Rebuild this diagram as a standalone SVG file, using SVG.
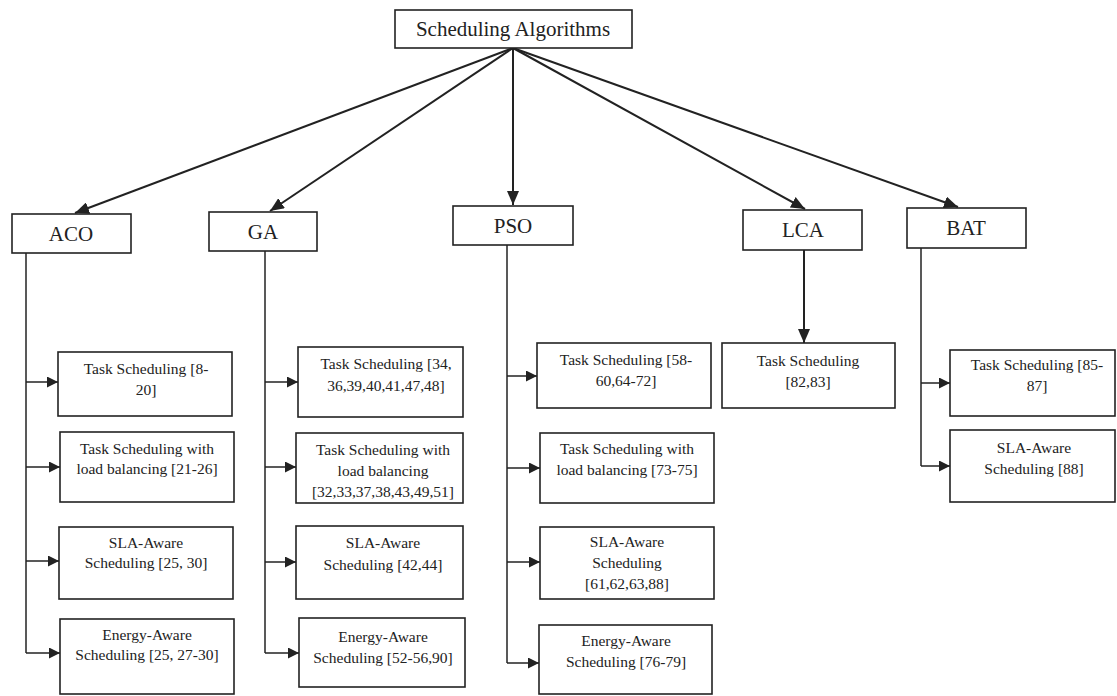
<svg xmlns="http://www.w3.org/2000/svg" width="1117" height="696" viewBox="0 0 1117 696">
<style>
.box{fill:#fff;stroke:#222;stroke-width:1.6}
.t1{font-family:"Liberation Serif","Times New Roman",serif;font-size:21px;fill:#222;text-anchor:middle}
.t2{font-family:"Liberation Serif","Times New Roman",serif;font-size:15.5px;fill:#222;text-anchor:middle}
.ln{fill:none;stroke:#222;stroke-width:1.5}
.dg{fill:none;stroke:#222;stroke-width:2}
</style>
<defs>
<marker id="ah" viewBox="0 0 10 10" refX="10" refY="5" markerWidth="11" markerHeight="11" markerUnits="userSpaceOnUse" orient="auto">
<path d="M0,0 L10,5 L0,10 z" fill="#222"/>
</marker>
<marker id="ahl" viewBox="0 0 14 12" refX="14" refY="6" markerWidth="14" markerHeight="12" markerUnits="userSpaceOnUse" orient="auto">
<path d="M0,0 L14,6 L0,12 z" fill="#222"/>
</marker>
</defs>
<rect width="1117" height="696" fill="#fff"/>
<g id="connectors">
<line class="dg" x1="513" y1="48" x2="75" y2="213" marker-end="url(#ahl)"/>
<line class="dg" x1="513" y1="48" x2="270" y2="211" marker-end="url(#ahl)"/>
<line class="dg" x1="513" y1="48" x2="513" y2="205" marker-end="url(#ahl)"/>
<line class="dg" x1="513" y1="48" x2="805" y2="209" marker-end="url(#ahl)"/>
<line class="dg" x1="513" y1="48" x2="958" y2="207" marker-end="url(#ahl)"/>
<path class="ln" d="M26,253 V653"/>
<line class="ln" x1="26" y1="382" x2="58" y2="382" marker-end="url(#ah)"/>
<line class="ln" x1="26" y1="467" x2="60" y2="467" marker-end="url(#ah)"/>
<line class="ln" x1="26" y1="561" x2="59" y2="561" marker-end="url(#ah)"/>
<line class="ln" x1="26" y1="653" x2="60" y2="653" marker-end="url(#ah)"/>
<path class="ln" d="M265,251 V653"/>
<line class="ln" x1="265" y1="382" x2="298" y2="382" marker-end="url(#ah)"/>
<line class="ln" x1="265" y1="467" x2="296" y2="467" marker-end="url(#ah)"/>
<line class="ln" x1="265" y1="562" x2="296" y2="562" marker-end="url(#ah)"/>
<line class="ln" x1="265" y1="653" x2="299" y2="653" marker-end="url(#ah)"/>
<path class="ln" d="M507,245 V663"/>
<line class="ln" x1="507" y1="376" x2="537" y2="376" marker-end="url(#ah)"/>
<line class="ln" x1="507" y1="468" x2="540" y2="468" marker-end="url(#ah)"/>
<line class="ln" x1="507" y1="562" x2="540" y2="562" marker-end="url(#ah)"/>
<line class="ln" x1="507" y1="663" x2="539" y2="663" marker-end="url(#ah)"/>
<line class="dg" x1="804" y1="250" x2="804" y2="343" marker-end="url(#ahl)"/>
<path class="ln" d="M921,248 V466"/>
<line class="ln" x1="921" y1="383" x2="950" y2="383" marker-end="url(#ah)"/>
<line class="ln" x1="921" y1="466" x2="950" y2="466" marker-end="url(#ah)"/>
</g>
<g id="root"><rect class="box" x="395" y="10" width="237" height="38"/><text class="t1" x="513" y="36">Scheduling Algorithms</text></g>
<g id="aco"><rect class="box" x="12" y="214" width="119" height="39"/><text class="t1" x="71" y="241">ACO</text></g>
<g id="ga"><rect class="box" x="209" y="212" width="108" height="39"/><text class="t1" x="263" y="239">GA</text></g>
<g id="pso"><rect class="box" x="453" y="206" width="120" height="39"/><text class="t1" x="513" y="233">PSO</text></g>
<g id="lca"><rect class="box" x="743" y="210" width="119" height="40"/><text class="t1" x="803" y="237">LCA</text></g>
<g id="bat"><rect class="box" x="907" y="208" width="119" height="40"/><text class="t1" x="966" y="235">BAT</text></g>
<g id="aco1"><rect class="box" x="58" y="352" width="174" height="64"/><text class="t2" x="146" y="374">Task Scheduling [8-</text><text class="t2" x="146" y="395">20]</text></g>
<g id="aco2"><rect class="box" x="60" y="432" width="174" height="70"/><text class="t2" x="147" y="454">Task Scheduling with</text><text class="t2" x="147" y="474">load balancing [21-26]</text></g>
<g id="aco3"><rect class="box" x="59" y="527" width="174" height="72"/><text class="t2" x="146" y="548">SLA-Aware</text><text class="t2" x="146" y="568">Scheduling [25, 30]</text></g>
<g id="aco4"><rect class="box" x="60" y="619" width="174" height="75"/><text class="t2" x="147" y="640">Energy-Aware</text><text class="t2" x="147" y="660">Scheduling [25, 27-30]</text></g>
<g id="ga1"><rect class="box" x="298" y="347" width="165" height="70"/><text class="t2" x="386" y="369">Task Scheduling [34,</text><text class="t2" x="386" y="391">36,39,40,41,47,48]</text></g>
<g id="ga2"><rect class="box" x="296" y="433" width="167" height="70"/><text class="t2" x="383" y="455">Task Scheduling with</text><text class="t2" x="383" y="476">load balancing</text><text class="t2" x="383" y="497">[32,33,37,38,43,49,51]</text></g>
<g id="ga3"><rect class="box" x="296" y="526" width="167" height="73"/><text class="t2" x="383" y="548">SLA-Aware</text><text class="t2" x="383" y="570">Scheduling [42,44]</text></g>
<g id="ga4"><rect class="box" x="299" y="618" width="166" height="69"/><text class="t2" x="383" y="642">Energy-Aware</text><text class="t2" x="383" y="663">Scheduling [52-56,90]</text></g>
<g id="pso1"><rect class="box" x="537" y="343" width="174" height="65"/><text class="t2" x="626" y="365">Task Scheduling [58-</text><text class="t2" x="626" y="386">60,64-72]</text></g>
<g id="pso2"><rect class="box" x="540" y="433" width="174" height="70"/><text class="t2" x="627" y="454">Task Scheduling with</text><text class="t2" x="627" y="475">load balancing [73-75]</text></g>
<g id="pso3"><rect class="box" x="540" y="527" width="174" height="72"/><text class="t2" x="627" y="547">SLA-Aware</text><text class="t2" x="627" y="568">Scheduling</text><text class="t2" x="627" y="589">[61,62,63,88]</text></g>
<g id="pso4"><rect class="box" x="539" y="625" width="173" height="69"/><text class="t2" x="626" y="646">Energy-Aware</text><text class="t2" x="626" y="667">Scheduling [76-79]</text></g>
<g id="lca1"><rect class="box" x="722" y="343" width="173" height="65"/><text class="t2" x="808" y="366">Task Scheduling</text><text class="t2" x="808" y="387">[82,83]</text></g>
<g id="bat1"><rect class="box" x="950" y="350" width="165" height="66"/><text class="t2" x="1037" y="370">Task Scheduling [85-</text><text class="t2" x="1037" y="391">87]</text></g>
<g id="bat2"><rect class="box" x="950" y="430" width="165" height="72"/><text class="t2" x="1034" y="453">SLA-Aware</text><text class="t2" x="1034" y="474">Scheduling [88]</text></g>
</svg>
